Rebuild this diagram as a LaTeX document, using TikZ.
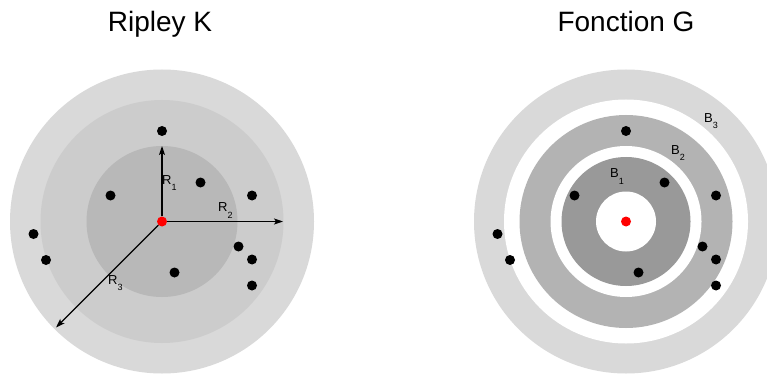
\documentclass[tikz,border=0pt]{standalone}
\usepackage{fontspec}
\setmainfont{Liberation Sans}
\usetikzlibrary{arrows.meta}
\definecolor{ringOut}{HTML}{D9D9D9}
\definecolor{ringK}{HTML}{CCCCCC}
\definecolor{coreK}{HTML}{B8B8B8}
\definecolor{bandG}{HTML}{B3B3B3}
\definecolor{coreG}{HTML}{999999}
\newcommand{\lab}[2]{#1\raisebox{-6.5pt}{\fontsize{9}{9}\selectfont #2}}

\begin{document}
\begin{tikzpicture}[x=1pt,y=-1pt,
  dot/.style={circle,fill=black,inner sep=0pt,minimum size=10pt},
  ctr/.style={circle,fill=red,inner sep=0pt,minimum size=10pt},
  lbl/.style={anchor=base west,inner sep=0pt,font=\fontsize{13}{13}\selectfont},
  ttl/.style={anchor=base,inner sep=0pt,font=\fontsize{28}{30}\selectfont},
  rarrow/.style={-{Stealth[length=9pt,width=6pt,inset=2pt]},line width=1.2pt}]
\clip (0,0) rectangle (767,374);
\fill[white] (0,0) rectangle (767,374);
% Ripley K
\coordinate (oK) at (162,221.5);
\fill[ringOut] (oK) circle (152pt);
\fill[ringK] (oK) circle (121.5pt);
\fill[coreK] (oK) circle (75.5pt);
% Fonction G
\coordinate (oG) at (626,221.5);
\fill[ringOut] (oG) circle (152pt);
\fill[white] (oG) circle (122pt);
\fill[bandG] (oG) circle (106.5pt);
\fill[white] (oG) circle (75.5pt);
\fill[coreG] (oG) circle (64.5pt);
\fill[white] (oG) circle (30pt);

% points
\foreach \i/\dx/\dy in {1/0/-90.5, 2/38.5/-39, 3/-51.5/-26, 4/90/-26, 5/-128.5/12.5,
  6/-116/38.5, 7/76.5/25, 8/90/38, 9/12.5/51, 10/90/64}{
  \node[dot] (k\i) at ([shift={(\dx,\dy)}]oK) {};
  \node[dot] (g\i) at ([shift={(\dx,\dy)}]oG) {};
}
\node[ctr] (cK) at (oK) {};
\node[ctr] (cG) at (oG) {};

% radii
\coordinate (r1) at ([shift={(0,-75.5)}]oK);
\coordinate (r2) at ([shift={(121,0)}]oK);
\coordinate (r3) at ([shift={(-106,106)}]oK);
\draw[rarrow] (cK) -- (r1);
\draw[rarrow] (cK) -- (r2);
\draw[rarrow] (cK) -- (r3);

% labels
\node[lbl] (lR1) at (162,184) {\lab{R}{1}};
\node[lbl] (lR2) at (218,211.5) {\lab{R}{2}};
\node[lbl] (lR3) at (108,284) {\lab{R}{3}};
\node[lbl] (lB1) at (610,177.5) {\lab{B}{1}};
\node[lbl] (lB2) at (671,154.3) {\lab{B}{2}};
\node[lbl] (lB3) at (704,122.3) {\lab{B}{3}};

\node[ttl] (tK) at (160,32) {Ripley K};
\node[ttl] (tG) at (626,32) {Fonction G};
\end{tikzpicture}
\end{document}
